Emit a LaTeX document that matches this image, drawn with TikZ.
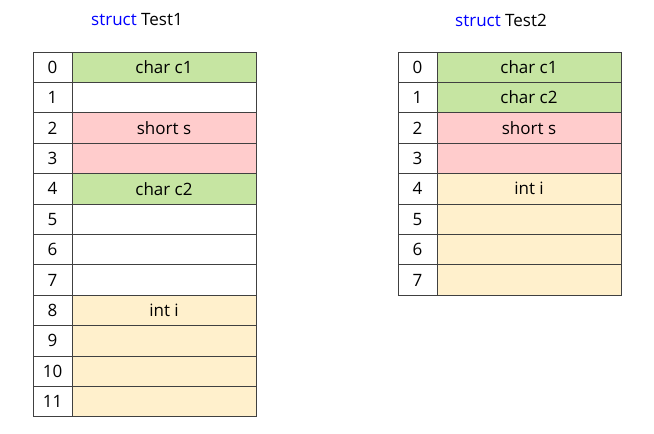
\documentclass[tikz,border=0pt]{standalone}
\usepackage{fontspec}
\setmainfont{Open Sans}
\usepackage{xcolor}
\usetikzlibrary{positioning}

\definecolor{grn}{HTML}{C6E5A2}
\definecolor{pnk}{HTML}{FFCCCC}
\definecolor{ylw}{HTML}{FFF0CC}
\definecolor{kw}{HTML}{0000FF}

\begin{document}
\begin{tikzpicture}[
    x=1pt, y=-1pt,
    node distance=0pt,
    idx/.style={draw=black!75, line width=0.8pt, outer sep=0pt, minimum width=39pt,
                minimum height=30.4pt, inner sep=0pt, font=\fontsize{17}{19}\selectfont},
    cell/.style={draw=black!75, line width=0.8pt, outer sep=0pt, minimum width=184pt,
                 minimum height=30.4pt, inner sep=0pt, font=\fontsize{17}{19}\selectfont},
    judul/.style={font=\fontsize{17}{19}\selectfont}
  ]
    \useasboundingbox (0,0) rectangle (654,434);

    % struct Test1
    \node[judul] (t1) at (137,20) {\textcolor{kw}{struct} Test1};
    \node[idx, anchor=north west] (a0) at (33,52) {0};
    \foreach \i [remember=\i as \j (initially 0)] in {1,...,11}
      \node[idx, below=of a\j] (a\i) {\i};
    \node[cell, fill=grn, right=of a0] (p0) {char c1};
    \node[cell, fill=white, right=of a1] (p1) {};
    \node[cell, fill=pnk, right=of a2] (p2) {short s};
    \node[cell, fill=pnk, right=of a3] (p3) {};
    \node[cell, fill=grn, right=of a4] (p4) {char c2};
    \foreach \i in {5,6,7}
      \node[cell, fill=white, right=of a\i] (p\i) {};
    \node[cell, fill=ylw, right=of a8] (p8) {int i};
    \foreach \i in {9,10,11}
      \node[cell, fill=ylw, right=of a\i] (p\i) {};

    % struct Test2
    \node[judul] (t2) at (501,20) {\textcolor{kw}{struct} Test2};
    \node[idx, anchor=north west] (b0) at (398,52) {0};
    \foreach \i [remember=\i as \j (initially 0)] in {1,...,7}
      \node[idx, below=of b\j] (b\i) {\i};
    \node[cell, fill=grn, right=of b0] (q0) {char c1};
    \node[cell, fill=grn, right=of b1] (q1) {char c2};
    \node[cell, fill=pnk, right=of b2] (q2) {short s};
    \node[cell, fill=pnk, right=of b3] (q3) {};
    \node[cell, fill=ylw, right=of b4] (q4) {int i};
    \foreach \i in {5,6,7}
      \node[cell, fill=ylw, right=of b\i] (q\i) {};
  \end{tikzpicture}
\end{document}
